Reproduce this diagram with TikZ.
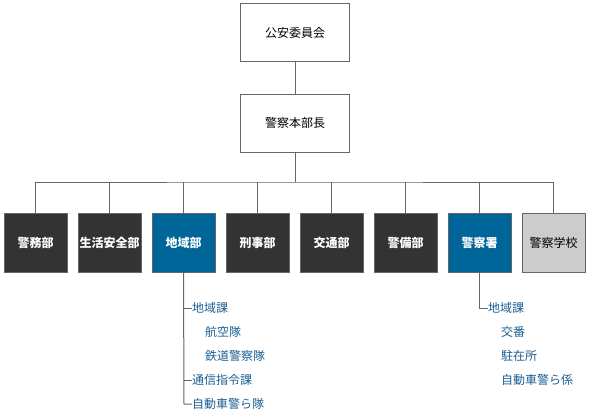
\documentclass[tikz,border=0pt]{standalone}
\usepackage{fontspec}
\setmainfont{Noto Sans CJK JP}
\definecolor{dark}{HTML}{333333}
\definecolor{blu}{HTML}{00669A}
\definecolor{lgray}{HTML}{CCCCCC}
\definecolor{edge}{HTML}{666666}
\definecolor{subtxt}{HTML}{1A5F92}
\begin{document}
\begin{tikzpicture}[x=1pt,y=-1pt,
  every node/.style={font=\fontsize{12}{14}\selectfont, inner sep=0pt},
  topbox/.style={draw=edge, line width=1pt, fill=white, minimum width=109pt, minimum height=58pt, text=black},
  deptbox/.style={draw=edge, line width=1pt, minimum width=63pt, minimum height=59pt, font=\fontsize{12}{14}\selectfont\bfseries, text=white},
  darkbox/.style={deptbox, fill=dark},
  bluebox/.style={deptbox, fill=blu},
  graybox/.style={deptbox, fill=lgray, text=black, font=\fontsize{12}{14}\selectfont},
  conn/.style={draw=edge, line width=1pt},
  subitem/.style={anchor=west, text=subtxt}]
\useasboundingbox (0,0) rectangle (590,416);
\node[topbox] (koan) at (295,32.5) {公安委員会};
\node[topbox] (honbu) at (295,123) {警察本部長};
\coordinate (bar) at (295,182);
\node[darkbox] (d1) at (35.5,242.5) {警務部};
\node[darkbox] (d2) at (109.5,242.5) {生活安全部};
\node[bluebox] (d3) at (183.5,242.5) {地域部};
\node[darkbox] (d4) at (257.5,242.5) {刑事部};
\node[darkbox] (d5) at (331.5,242.5) {交通部};
\node[darkbox] (d6) at (405.5,242.5) {警備部};
\node[bluebox] (d7) at (479.5,242.5) {警察署};
\node[graybox] (d8) at (553.5,242.5) {警察学校};
\draw[conn] (koan) -- (honbu);
\draw[conn] (honbu.south) -- (bar);
\draw[conn] (d1.north) |- (bar) -| (d8.north);
\foreach \n in {d2,d3,d4,d5,d6,d7} \draw[conn] (\n.north) -- (\n.north |- bar);
% sub list for 地域部
\node[subitem] (s1) at (192,308) {地域課};
\node[subitem] (s2) at (205,332) {航空隊};
\node[subitem] (s3) at (205,356) {鉄道警察隊};
\node[subitem] (s4) at (192,380) {通信指令課};
\node[subitem] (s5) at (192,404) {自動車警ら隊};
\coordinate (c1) at (184,404);
\draw[conn] (d3.south) -- (c1) -- (s5.west);
\draw[conn] (s1.west -| c1) -- (s1.west);
\draw[conn] (s4.west -| c1) -- (s4.west);
% sub list for 警察署
\node[subitem] (t1) at (488,308) {地域課};
\node[subitem] (t2) at (501,332) {交番};
\node[subitem] (t3) at (501,356) {駐在所};
\node[subitem] (t4) at (501,380) {自動車警ら係};
\draw[conn] (d7.south) |- (t1.west);
\end{tikzpicture}
\end{document}
